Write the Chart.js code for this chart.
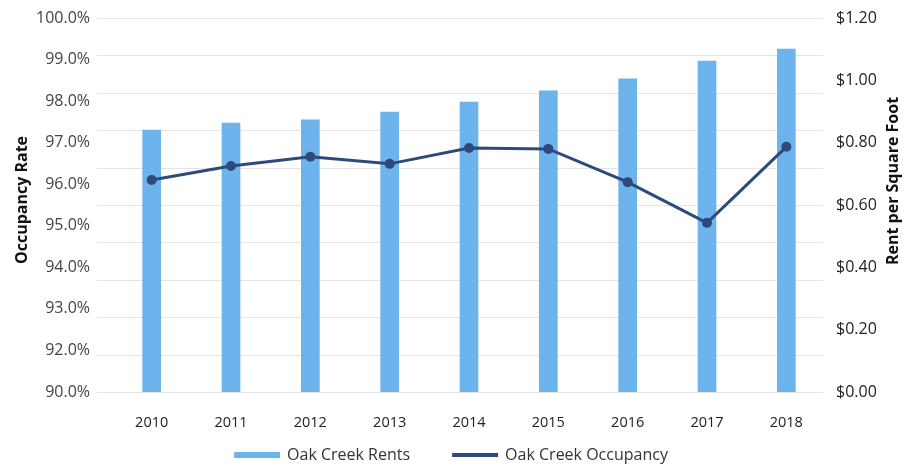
<!DOCTYPE html>
<html>
<head>
<meta charset="utf-8">
<script src="https://cdn.jsdelivr.net/npm/chart.js@4"></script>
<style>
  html, body { margin: 0; padding: 0; background: #fff; }
  #wrap { width: 909px; height: 468px; }
</style>
</head>
<body>
<div id="wrap"><canvas id="chart" width="909" height="468"></canvas></div>
<script>
// ===== DATOS =====
const years = ['2010', '2011', '2012', '2013', '2014', '2015', '2016', '2017', '2018'];
const rents = [0.84, 0.863, 0.873, 0.898, 0.93, 0.966, 1.005, 1.062, 1.10];
const occupancy = [96.1, 96.44, 96.66, 96.49, 96.87, 96.85, 96.05, 95.07, 96.9];
const occTickLabels = ['90.0%', '92.0%', '93.0%', '94.0%', '95.0%', '96.0%', '97.0%', '98.0%', '99.0%', '100.0%'];
const rentTickLabels = ['$0.00', '$0.20', '$0.40', '$0.60', '$0.80', '$1.00', '$1.20'];

const FONT = '"Open Sans", Lato, sans-serif';
const RENT_COLOR = '#6db4ec';
const OCC_COLOR = '#2e4a7d';

// lineas de fondo (10 intervalos, independientes de los ejes)
const gridPlugin = {
    id: 'bgGrid',
    beforeDatasetsDraw(chart) {
        const { ctx, chartArea } = chart;
        ctx.save();
        ctx.strokeStyle = '#e4e4e4';
        ctx.lineWidth = 1;
        for (let i = 0; i <= 10; i++) {
            const y = Math.round(chartArea.top + i * (chartArea.bottom - chartArea.top) / 10) + 0.5;
            ctx.beginPath();
            ctx.moveTo(97, y);
            ctx.lineTo(823, y);
            ctx.stroke();
        }
        ctx.restore();
    }
};

// titulos de ejes + leyenda
const extrasPlugin = {
    id: 'extras',
    afterDraw(chart) {
        const ctx = chart.ctx;
        ctx.save();
        ctx.fillStyle = '#111';
        ctx.font = 'bold 16px ' + FONT;
        ctx.textAlign = 'center';
        ctx.textBaseline = 'middle';
        [['Occupancy Rate', 22, 200], ['Rent per Square Foot', 893, 181]].forEach(([t, x, y]) => {
            ctx.save();
            ctx.translate(x, y);
            ctx.rotate(-Math.PI / 2);
            ctx.fillText(t, 0, 0);
            ctx.restore();
        });

        // leyenda
        const items = [
            { text: 'Oak Creek Rents', color: RENT_COLOR, h: 6 },
            { text: 'Oak Creek Occupancy', color: OCC_COLOR, h: 4 }
        ];
        ctx.font = '16px ' + FONT;
        ctx.textAlign = 'left';
        const boxW = 46, gapText = 7, gapItem = 42, yLeg = 455;
        let total = 0;
        items.forEach((it, i) => {
            it.w = ctx.measureText(it.text).width;
            total += boxW + gapText + it.w + (i ? gapItem : 0);
        });
        let x = 451 - total / 2;
        items.forEach(it => {
            ctx.fillStyle = it.color;
            ctx.fillRect(x, yLeg - it.h / 2, boxW, it.h);
            ctx.fillStyle = '#333';
            ctx.fillText(it.text, x + boxW + gapText, yLeg);
            x += boxW + gapText + it.w + gapItem;
        });
        ctx.restore();
    }
};

new Chart(document.getElementById('chart'), {
    data: {
        labels: years,
        datasets: [
            {
                type: 'line', label: 'Oak Creek Occupancy', data: occupancy, yAxisID: 'yOcc',
                borderColor: OCC_COLOR, backgroundColor: OCC_COLOR, borderWidth: 3,
                pointRadius: 5, pointBackgroundColor: OCC_COLOR, pointBorderWidth: 0,
                tension: 0, order: 1
            },
            {
                type: 'bar', label: 'Oak Creek Rents', data: rents, yAxisID: 'yRent',
                backgroundColor: RENT_COLOR, borderWidth: 0, barThickness: 18, order: 2
            }
        ]
    },
    options: {
        responsive: false,
        animation: false,
        layout: { padding: { top: 18, bottom: 0 } },
        plugins: {
            tooltip: { enabled: false },
            legend: { display: false }
        },
        scales: {
            x: {
                offset: true,
                grid: { display: false, drawTicks: false },
                border: { display: false },
                ticks: { color: '#222', font: { family: FONT, size: 14.5 }, padding: 22 },
                afterFit(s) { s.height = 76; s.paddingLeft = 0; s.paddingRight = 0; }
            },
            yOcc: {
                position: 'left',
                min: 91, max: 100,
                grid: { display: false, drawTicks: false },
                border: { display: false },
                ticks: {
                    stepSize: 1, padding: 22, color: '#444',
                    font: { family: FONT, size: 16 },
                    callback: (v, i) => occTickLabels[i]
                },
                afterFit(s) { s.width = 112; s.paddingTop = 0; s.paddingBottom = 0; }
            },
            yRent: {
                position: 'right',
                min: 0, max: 1.2,
                grid: { display: false, drawTicks: false },
                border: { display: false },
                ticks: {
                    stepSize: 0.2, padding: 10, color: '#222',
                    font: { family: FONT, size: 16 },
                    callback: (v, i) => rentTickLabels[i]
                },
                afterFit(s) { s.width = 83; s.paddingTop = 0; s.paddingBottom = 0; }
            }
        }
    },
    plugins: [gridPlugin, extrasPlugin]
});
</script>
</body>
</html>
